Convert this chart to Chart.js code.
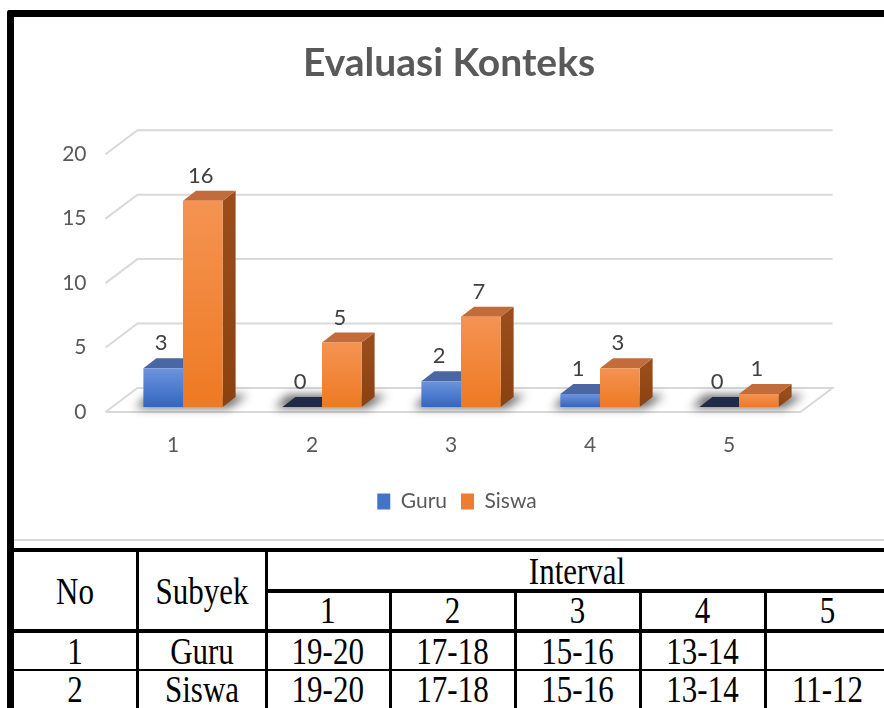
<!DOCTYPE html>
<html>
<head>
<meta charset="utf-8">
<script src="https://cdn.jsdelivr.net/npm/chart.js@4"></script>
<style>
  html, body { margin: 0; padding: 0; background: #fff; }
  body { width: 884px; height: 708px; position: relative; overflow: hidden; }
  .ln { position: absolute; background: #000; }
  .cell { position: absolute; font-family: "Liberation Serif", "Times New Roman", serif; font-size: 31px;
          color: #000; transform: translate(-50%, -50%) scaleY(1.2); white-space: nowrap; }
  #wrap { position: absolute; left: 14px; top: 17px; width: 870px; height: 522px; }
</style>
</head>
<body>
<div class="ln" style="left:7px;top:10px;width:7px;height:698px;border-top-left-radius:3px"></div>
<div class="ln" style="left:7px;top:10px;width:877px;height:7px;border-top-left-radius:3px"></div>
<div class="ln" style="left:14px;top:539px;width:870px;height:2px;background:#d9d9d9"></div>
<div id="wrap"><canvas id="chart"></canvas></div>
<div id="table"></div>
<script>
// chart values
const categories = ["1", "2", "3", "4", "5"];
const guru = [3, 0, 2, 1, 0];
const siswa = [16, 5, 7, 3, 1];
const yTicks = [0, 5, 10, 15, 20];

// table values
const intervalNos = ["1", "2", "3", "4", "5"];
const subjects = ["Guru", "Siswa"];
const guruIntervals = ["19-20", "17-18", "15-16", "13-14", ""];
const siswaIntervals = ["19-20", "17-18", "15-16", "13-14", "11-12"];

const FONT = "Lato, 'Open Sans', sans-serif";
const styles = [
  { legend: "#4472c4", top: "#4a66a3", side: "#2f4f8f", zeroTop: "#1f2b47", grad: ["#6d94dc", "#3366c2"] },
  { legend: "#ed7d31", top: "#c26b3b", side: "#9a4d1b", zeroTop: "#7a3d12", grad: ["#f49352", "#ee7a22"] },
];
const D = { dx: 13, dy: -10 };          // bar depth
const W = { fx: -8, fy: 5, bx: 24, by: -19 }; // wall / floor depth

function frontGradient(ctx, i) {
  const chart = ctx.chart;
  const y = chart.scales && chart.scales.y;
  if (!y || !chart.chartArea || ctx.raw === undefined) return styles[i].grad[1];
  const y0 = y.getPixelForValue(0), y1 = y.getPixelForValue(ctx.raw);
  if (y0 - y1 < 1) return styles[i].grad[1];
  const g = chart.ctx.createLinearGradient(0, y1, 0, y0);
  g.addColorStop(0, styles[i].grad[0]);
  g.addColorStop(1, styles[i].grad[1]);
  return g;
}

function poly(ctx, pts, fill) {
  ctx.beginPath();
  ctx.moveTo(pts[0][0], pts[0][1]);
  pts.slice(1).forEach(p => ctx.lineTo(p[0], p[1]));
  ctx.closePath();
  ctx.fillStyle = fill;
  ctx.fill();
}

const threeD = {
  id: "threeD",
  afterLayout(chart) {
    // legend sits a little right of centre in the original
    if (chart.legend) { chart.legend.left += 8; chart.legend.right += 8; }
  },
  beforeDatasetsDraw(chart) {
    const { ctx, chartArea: a, scales: { y } } = chart;
    ctx.save();
    // walls and floor
    ctx.strokeStyle = "#d9d9d9";
    ctx.lineWidth = 2;
    yTicks.forEach(v => {
      const py = y.getPixelForValue(v);
      ctx.beginPath();
      ctx.moveTo(a.left + W.fx, py + W.fy);
      ctx.lineTo(a.left + W.bx, py + W.by);
      ctx.lineTo(a.right + W.bx, py + W.by);
      if (v === 0) {
        ctx.lineTo(a.right + W.fx, py + W.fy);
        ctx.lineTo(a.left + W.fx, py + W.fy);
      }
      ctx.stroke();
    });
    // shadows
    const m0 = chart.getDatasetMeta(0).data, m1 = chart.getDatasetMeta(1).data;
    const y0 = y.getPixelForValue(0);
    ctx.filter = "blur(5px)";
    categories.forEach((c, i) => {
      const x0 = m0[i].x - m0[i].width / 2, x1 = m1[i].x + m1[i].width / 2;
      poly(ctx, [[x0 - 8, y0 + 1], [x1 + 6, y0 + 1], [x1 + D.dx + 12, y0 + D.dy - 2], [x0 + D.dx - 8, y0 + D.dy - 2]], "rgba(0,0,0,0.6)");
    });
    ctx.filter = "none";
    // side and top faces
    [m0, m1].forEach((meta, di) => {
      meta.forEach(bar => {
        const l = bar.x - bar.width / 2, r = bar.x + bar.width / 2, t = bar.y, b = y0;
        if (b - t > 0.5) {
          const g = ctx.createLinearGradient(0, t, 0, b);
          g.addColorStop(0, styles[di].side);
          g.addColorStop(1, di ? "#8a4210" : "#284783");
          poly(ctx, [[r, t], [r + D.dx, t + D.dy], [r + D.dx, b + D.dy], [r, b]], g);
          poly(ctx, [[l, t], [r, t], [r + D.dx, t + D.dy], [l + D.dx, t + D.dy]], styles[di].top);
        } else {
          poly(ctx, [[l, t], [r, t], [r + D.dx, t + D.dy], [l + D.dx, t + D.dy]], styles[di].zeroTop);
        }
      });
    });
    ctx.restore();
  },
  afterDatasetsDraw(chart) {
    const { ctx } = chart;
    ctx.save();
    ctx.font = "22px " + FONT;
    ctx.fillStyle = "#404040";
    ctx.textAlign = "center";
    ctx.textBaseline = "middle";
    chart.data.datasets.forEach((ds, di) => {
      chart.getDatasetMeta(di).data.forEach((bar, i) => {
        ctx.fillText(String(ds.data[i]), bar.x - 2, bar.y - 25);
      });
    });
    ctx.restore();
  }
};

new Chart(document.getElementById("chart"), {
  type: "bar",
  data: {
    labels: categories,
    datasets: [
      { label: "Guru", data: guru, backgroundColor: c => frontGradient(c, 0) },
      { label: "Siswa", data: siswa, backgroundColor: c => frontGradient(c, 1) },
    ]
  },
  options: {
    responsive: true,
    maintainAspectRatio: false,
    animation: false,
    categoryPercentage: 0.57,
    barPercentage: 1,
    layout: { padding: { left: 0, right: 0, top: 0, bottom: 17 } },
    plugins: {
      title: {
        display: true,
        text: "Evaluasi Konteks",
        color: "#595959",
        font: { family: FONT, size: 39, weight: "bold" },
        padding: { top: 22.6, bottom: 62.8 }
      },
      legend: {
        position: "bottom",
        labels: {
          color: "#595959",
          font: { family: FONT, size: 21 },
          boxWidth: 13,
          boxHeight: 16,
          padding: 14,
          generateLabels: chart => chart.data.datasets.map((ds, i) => ({
            text: ds.label, fillStyle: styles[i].legend, strokeStyle: styles[i].legend,
            lineWidth: 0, datasetIndex: i, fontColor: "#595959"
          }))
        }
      },
      tooltip: { enabled: false }
    },
    scales: {
      x: {
        grid: { display: false, drawTicks: false },
        border: { display: false },
        ticks: { color: "#595959", font: { family: FONT, size: 21 }, padding: 26, labelOffset: -10 },
        afterFit: s => { s.height = 70; }
      },
      y: {
        min: 0, max: 20,
        grid: { display: false, drawTicks: false },
        border: { display: false },
        ticks: { stepSize: 5, color: "#595959", font: { family: FONT, size: 21 }, padding: 27, labelOffset: 5 },
        afterFit: s => { s.width = 99.5; }
      },
      // empty right-hand axis that keeps the space right of the floor
      yRight: {
        position: "right",
        grid: { display: false, drawTicks: false },
        border: { display: false },
        ticks: { display: false },
        afterFit: s => { s.width = 75.5; }
      }
    }
  },
  plugins: [threeD]
});

// table under the chart
const table = document.getElementById("table");
function line(x, y, w, h) {
  const d = document.createElement("div");
  d.className = "ln";
  Object.assign(d.style, { left: x + "px", top: y + "px", width: w + "px", height: h + "px" });
  table.appendChild(d);
}
function cell(text, cx, cy) {
  const d = document.createElement("div");
  d.className = "cell";
  d.textContent = text;
  Object.assign(d.style, { left: cx + "px", top: cy + "px" });
  table.appendChild(d);
}
const colX = [14, 136, 264.5, 389, 514, 639, 764, 889];
line(14, 548, 870, 4);
line(266, 589, 618, 4);
line(14, 629, 870, 4);
line(14, 669, 870, 2);
line(136, 548, 3, 160);
line(264.5, 548, 3, 160);
[389, 514, 639, 764].forEach(x => line(x, 591, 3, 117));

cell("No", 75, 592);
cell("Subyek", 202, 592);
cell("Interval", 577, 572);
intervalNos.forEach((n, i) => cell(n, (colX[i + 2] + colX[i + 3]) / 2 + 1, 611));
const rows = [guruIntervals, siswaIntervals];
subjects.forEach((s, r) => {
  const cy = r === 0 ? 652 : 690;
  cell(String(r + 1), 75, cy);
  cell(s, 202, cy);
  rows[r].forEach((v, i) => { if (v) cell(v, (colX[i + 2] + colX[i + 3]) / 2 + 1, cy); });
});
</script>
</body>
</html>
